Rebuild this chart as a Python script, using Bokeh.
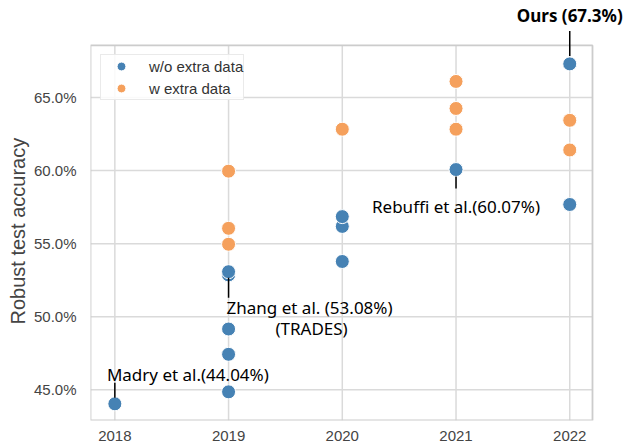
from bokeh.plotting import figure
from bokeh.models import (ColumnDataSource, FixedTicker, PrintfTickFormatter, Label,
                          Legend, LegendItem, Range1d, Title)
from bokeh.embed import file_html
from bokeh.resources import INLINE

# ---- data ----
years_wo = [2018, 2019, 2019, 2019, 2019, 2019, 2020, 2020, 2020, 2021, 2022, 2022]
acc_wo = [44.04, 44.86, 47.43, 49.16, 52.86, 53.08, 53.78, 56.18, 56.85, 60.07, 67.30, 57.68]
years_w = [2019, 2019, 2019, 2020, 2021, 2021, 2021, 2022, 2022]
acc_w = [54.96, 56.05, 59.96, 62.83, 62.83, 64.25, 66.10, 63.44, 61.41]

x_ticks = [2018, 2019, 2020, 2021, 2022]
y_ticks = [45, 50, 55, 60, 65]

ann_text = ["Ours (67.3%)", "Rebuffi et al.(60.07%)", "Zhang et al. (53.08%)", "Madry et al.(44.04%)"]
ann_sub = ["", "", "(TRADES)", ""]
ann_x = [2022, 2021, 2019, 2018]
ann_y = [67.30, 60.07, 53.08, 44.04]

series_labels = ["w/o extra data", "w extra data"]
y_title = "Robust test accuracy"

# ---- style ----
BLUE = "#4682b4"
ORANGE = "#f5a05c"
GRID = "#dadada"
TXT = "#444444"

W, H = 626, 447
B_L, B_R, B_T, B_B = 90, 0, 0, 27
# visible box limits; the plotting frame extends above/right so annotations are not clipped
y_lo, y_box_top, y_hi = 42.9, 68.56, 71.637
x_lo, x_box_right, x_hi = 2017.786, 2022.2, 2022.499

p = figure(width=W, height=H, output_backend="svg", toolbar_location=None,
           x_range=Range1d(x_lo, x_hi), y_range=Range1d(y_lo, y_hi),
           min_border_left=B_L, min_border_right=B_R, min_border_top=B_T, min_border_bottom=B_B)
p.background_fill_color = "white"
p.border_fill_color = "white"
p.outline_line_color = None
p.xgrid.grid_line_color = None
p.ygrid.grid_line_color = None

frame_h = H - B_T - B_B
ppu = frame_h / (y_hi - y_lo)  # pixels per percent

for ax in (p.xaxis[0], p.yaxis[0]):
    ax.axis_line_color = None
    ax.major_tick_line_color = None
    ax.minor_tick_line_color = None
    ax.major_tick_out = 0
    ax.major_tick_in = 0
    ax.minor_tick_out = 0
    ax.major_label_text_font = "Liberation Sans"
    ax.major_label_text_font_size = "15px"
    ax.major_label_text_color = TXT

p.xaxis.ticker = FixedTicker(ticks=x_ticks)
p.yaxis.ticker = FixedTicker(ticks=y_ticks)
p.yaxis.formatter = PrintfTickFormatter(format="%.1f%%")
p.xaxis.major_label_standoff = 10
p.yaxis.major_label_standoff = 14

# y title positioned along the visible box (starts from the box bottom side)
p.add_layout(Title(text=y_title, align="left", offset=96, standoff=4,
                   text_font="Liberation Sans", text_font_size="20px",
                   text_font_style="normal", text_color=TXT), "left")

# grid lines and box drawn only inside the visible box
p.segment(x0=x_ticks, x1=x_ticks, y0=[y_lo] * len(x_ticks), y1=[y_box_top] * len(x_ticks),
          line_color=GRID, line_width=1.5)
p.segment(x0=[x_lo] * len(y_ticks), x1=[x_box_right] * len(y_ticks), y0=y_ticks, y1=y_ticks,
          line_color=GRID, line_width=1.5)
p.quad(left=[x_lo], right=[x_box_right], bottom=[y_lo], top=[y_box_top],
       fill_color=None, line_color="#cccccc", line_width=1.8)

src_wo = ColumnDataSource(dict(x=years_wo, y=acc_wo))
src_w = ColumnDataSource(dict(x=years_w, y=acc_w))
r_w = p.scatter("x", "y", source=src_w, size=14, fill_color=ORANGE, line_color="white", line_width=1)
r_wo = p.scatter("x", "y", source=src_wo, size=14, fill_color=BLUE, line_color="white", line_width=1)

# ---- annotations ----
lead_px = [(-8, -33), (7, 19), (6, 26), (-6, -21)]   # screen px below point (+) / above (-)
text_off = [(0, 48), (0, -37), (81, -36), (73, 29)]
sub_off = [(0, 0), (0, 0), (83, -57), (0, 0)]
lx0, lx1, ly0, ly1 = [], [], [], []
for i in range(len(ann_text)):
    a, b = lead_px[i]
    lx0.append(ann_x[i]); lx1.append(ann_x[i])
    ly0.append(ann_y[i] - a / ppu); ly1.append(ann_y[i] - b / ppu)
    bold = i == 0
    p.add_layout(Label(x=ann_x[i], y=ann_y[i], x_offset=text_off[i][0], y_offset=text_off[i][1],
                       text=ann_text[i], text_align="center", text_baseline="middle",
                       text_font="Noto Sans", text_font_size="17px",
                       text_font_style="bold" if bold else "normal", text_color="black"))
    if ann_sub[i]:
        p.add_layout(Label(x=ann_x[i], y=ann_y[i], x_offset=sub_off[i][0], y_offset=sub_off[i][1],
                           text=ann_sub[i], text_align="center", text_baseline="middle",
                           text_font="Noto Sans", text_font_size="17px", text_color="black"))
p.segment(x0=lx0, x1=lx1, y0=ly0, y1=ly1, line_color="black", line_width=1.5)

legend = Legend(items=[LegendItem(label=series_labels[0], renderers=[r_wo]),
                       LegendItem(label=series_labels[1], renderers=[r_w])],
                location=(10, 320))
legend.margin = 0
legend.padding = 0
legend.spacing = 0
legend.glyph_width = 40
legend.glyph_height = 22
legend.label_height = 22
legend.label_standoff = 8
legend.label_text_font = "Liberation Sans"
legend.label_text_font_size = "15px"
legend.label_text_color = "#333333"
legend.border_line_color = "#d6d6d6"
legend.border_line_width = 1
legend.background_fill_alpha = 0.85
p.add_layout(legend)

open("out.html", "w").write(file_html(p, INLINE))
